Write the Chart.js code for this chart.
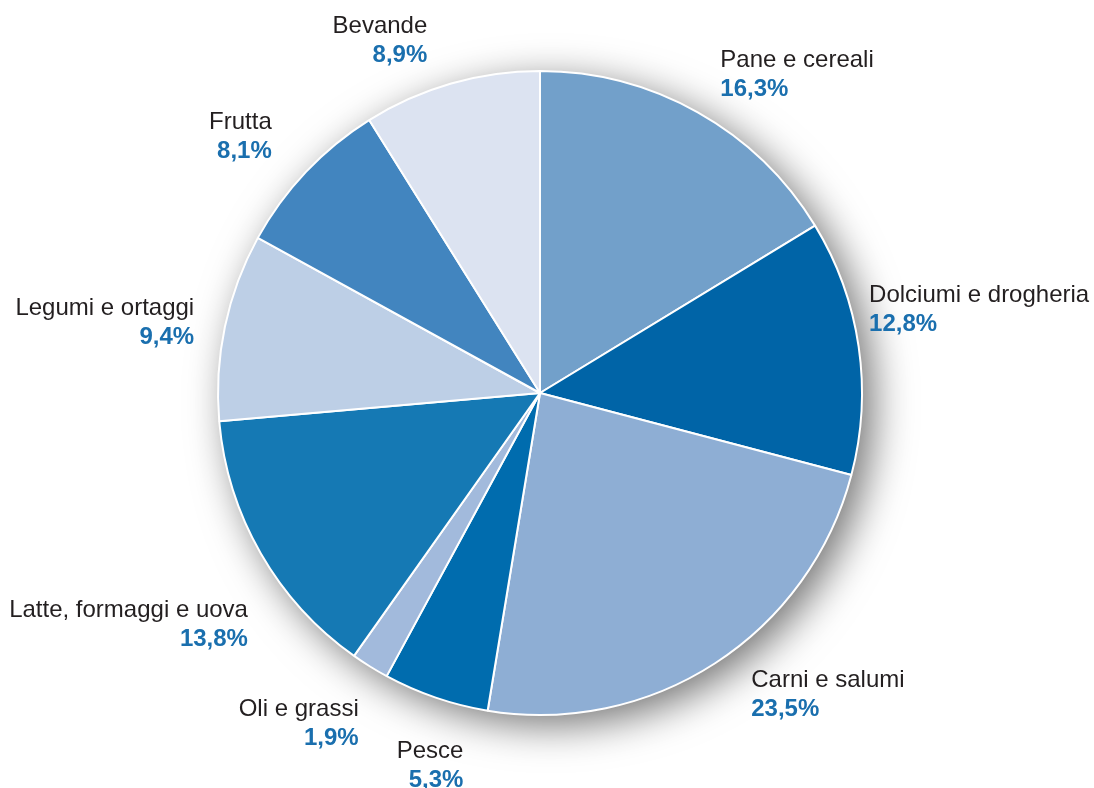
<!DOCTYPE html>
<html>
<head>
<meta charset="utf-8">
<script src="https://cdn.jsdelivr.net/npm/chart.js@4"></script>
<style>
  html, body { margin: 0; padding: 0; background: #fff; }
  #wrap { width: 1094px; height: 788px; position: relative; }
</style>
</head>
<body>
<div id="wrap"><canvas id="myChart"></canvas></div>
<script>
'use strict';

const categories = ['Pane e cereali', 'Dolciumi e drogheria', 'Carni e salumi', 'Pesce',
    'Oli e grassi', 'Latte, formaggi e uova', 'Legumi e ortaggi', 'Frutta', 'Bevande'];
const shares = [16.3, 12.8, 23.5, 5.3, 1.9, 13.8, 9.4, 8.1, 8.9];
const sliceColors = ['#72a0ca', '#0064a7', '#8eaed4', '#006cae', '#a2badc',
    '#1579b4', '#bdcfe6', '#4285bf', '#dce3f1'];

// label anchors, relative to the pie centre in units of the radius (x, name baseline)
const labelAnchors = [
    [0.560, -1.012], [1.022, -0.282], [0.656, 0.913], [-0.238, 1.133], [-0.563, 1.003],
    [-0.907, 0.697], [-1.074, -0.241], [-0.833, -0.820], [-0.350, -1.118]
];

const FONT = '"Liberation Sans", Arial, Helvetica, sans-serif';

// soft grey halo under the pie
const pieShadow = {
    id: 'pieShadow',
    beforeDatasetsDraw(chart) {
        const arc = chart.getDatasetMeta(0).data[0];
        if (!arc) return;
        const { x, y, outerRadius } = arc.getProps(['x', 'y', 'outerRadius'], true);
        const ctx = chart.ctx;
        ctx.save();
        ctx.shadowColor = 'rgba(0,0,0,0.55)';
        ctx.shadowBlur = 40;
        ctx.shadowOffsetX = 11;
        ctx.shadowOffsetY = 10;
        ctx.fillStyle = '#fff';
        ctx.beginPath();
        ctx.arc(x, y, outerRadius, 0, Math.PI * 2);
        ctx.fill();
        ctx.restore();
    }
};

// category name + percentage next to each slice
const sliceLabels = {
    id: 'sliceLabels',
    afterDatasetsDraw(chart) {
        const arc = chart.getDatasetMeta(0).data[0];
        if (!arc) return;
        const { x, y, outerRadius } = arc.getProps(['x', 'y', 'outerRadius'], true);
        const ctx = chart.ctx;
        ctx.save();
        ctx.textBaseline = 'alphabetic';
        categories.forEach((name, i) => {
            const [dx, dy] = labelAnchors[i];
            const lx = x + dx * outerRadius;
            const ly = y + dy * outerRadius;
            ctx.textAlign = dx > 0 ? 'left' : 'right';
            ctx.font = '24px ' + FONT;
            ctx.fillStyle = '#231f20';
            ctx.fillText(name, lx, ly);
            ctx.font = 'bold 24px ' + FONT;
            ctx.fillStyle = '#1a6fae';
            ctx.fillText(shares[i].toFixed(1).replace('.', ',') + '%', lx, ly + 29);
        });
        ctx.restore();
    }
};

const ctx = document.getElementById('myChart');
new Chart(ctx, {
    type: 'pie',
    data: {
        labels: categories,
        datasets: [{
            data: shares,
            backgroundColor: sliceColors,
            borderColor: '#fff',
            borderWidth: 2
        }]
    },
    options: {
        responsive: true,
        maintainAspectRatio: false,
        animation: false,
        layout: {
            padding: { left: 217, right: 231, top: 70, bottom: 72 }
        },
        plugins: {
            legend: { display: false },
            tooltip: { enabled: false }
        }
    },
    plugins: [pieShadow, sliceLabels]
});
</script>
</body>
</html>
